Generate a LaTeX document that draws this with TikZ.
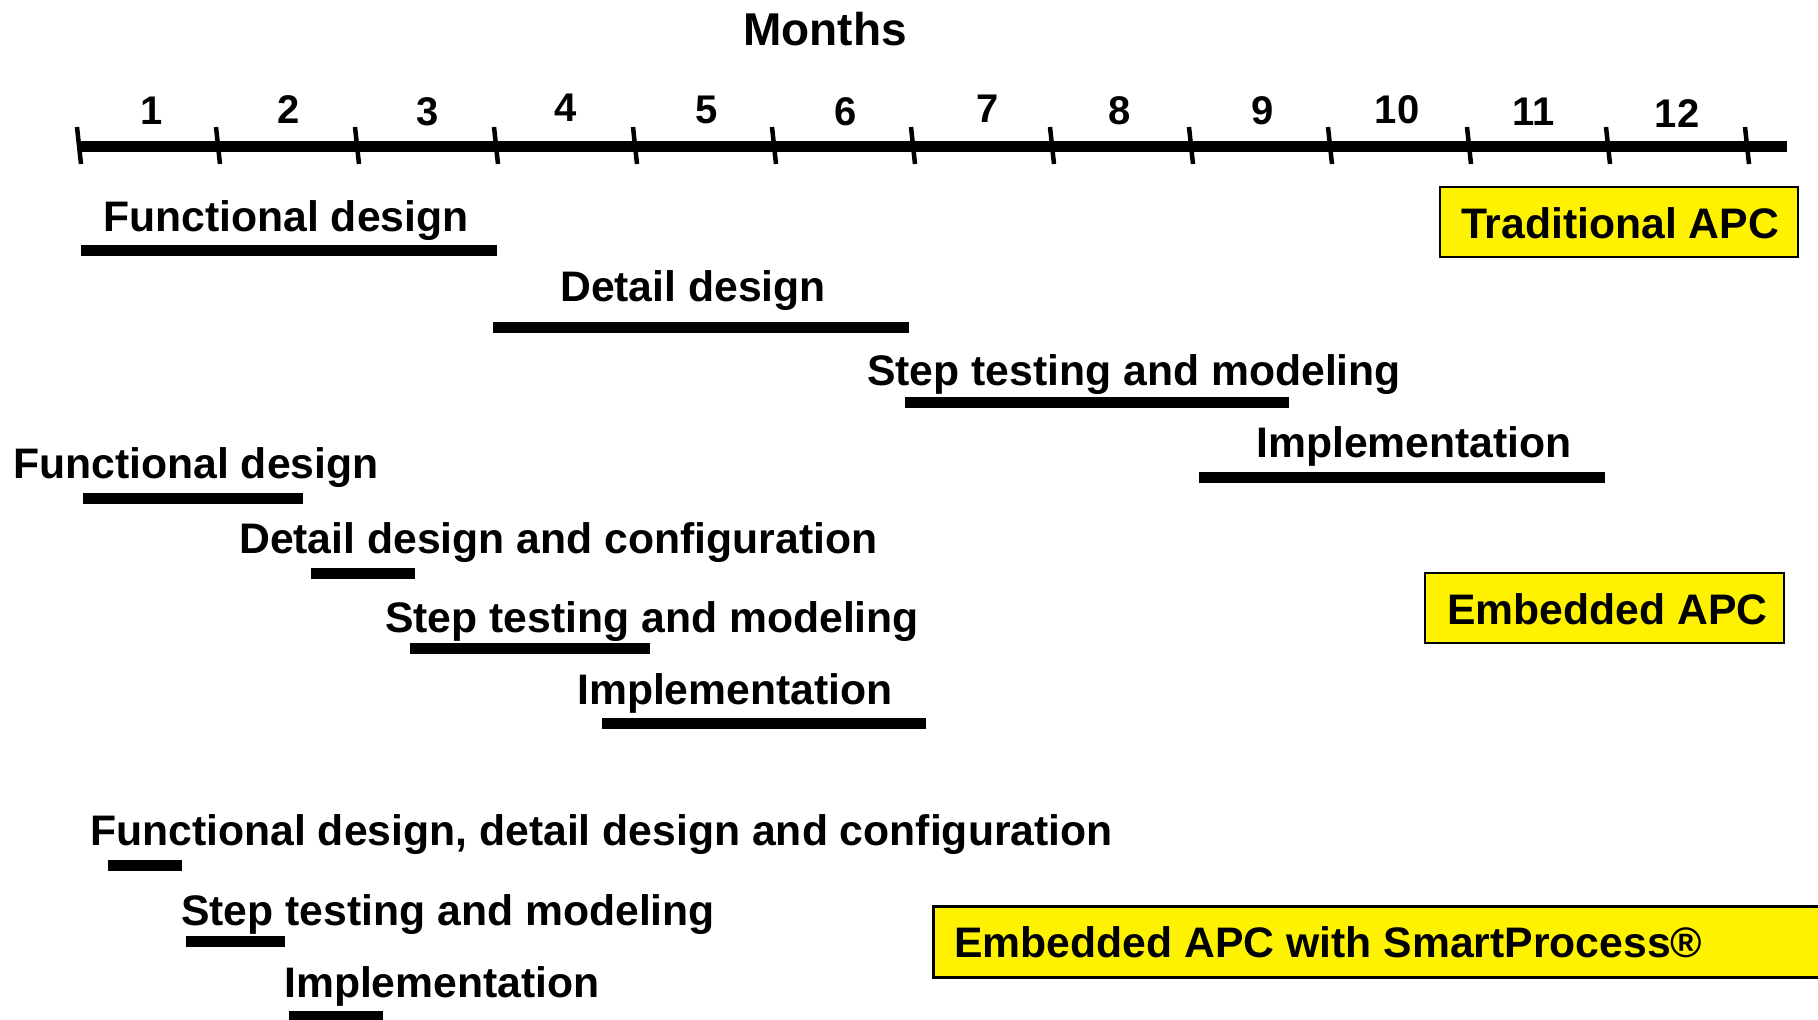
\documentclass[tikz,border=0pt]{standalone}
\usepackage{fontspec}
\setmainfont{Liberation Sans}
\begin{document}
\begin{tikzpicture}[x=1pt,y=-1pt,
  lbl/.style={anchor=base west, inner sep=0pt, font=\fontsize{42.7}{50}\selectfont\bfseries},
  num/.style={anchor=base, inner sep=0pt, font=\fontsize{40}{48}\selectfont\bfseries},
  ttl/.style={anchor=base, inner sep=0pt, font=\fontsize{46}{54}\selectfont\bfseries},
  bar/.style={line width=11pt},
  axisline/.style={line width=11pt},
  tickmark/.style={line width=4.5pt},
  tagbox/.style={draw=black, line width=2.5pt, fill=yellow}]

\useasboundingbox (0,0) rectangle (1818,1020);

% month axis
\node[ttl] (months) at (825,45) {Months};
\coordinate (axL) at (79,146);
\coordinate (axR) at (1787,146);
\draw[axisline] (axL) -- (axR);
\foreach \k in {0,...,12}{
  \draw[tickmark] ({79+139*\k-2},127) -- ({79+139*\k+2},164);
}
\foreach \m/\xx/\yy in {1/152/124.6, 2/289/123.5, 3/428/125.8, 4/566/121,
                        5/707/123.5, 6/846/125.8, 7/988/122.3, 8/1120/124.6,
                        9/1263/124.6, 10/1397/123.5, 11/1534/125.8, 12/1677/127}{
  \node[num] (m\m) at (\xx,\yy) {\m};
}

% traditional APC schedule
\node[lbl] (t1) at (103,231) {Functional design};
\draw[bar] (81,250) -- (497,250);
\node[lbl] (t2) at (560,301.5) {Detail design};
\draw[bar] (493,327) -- (909,327);
\node[lbl] (t3) at (867,385) {Step testing and modeling};
\draw[bar] (905,402) -- (1289,402);
\node[lbl] (t4) at (1256,457) {Implementation};
\draw[bar] (1199,477) -- (1605,477);

\filldraw[tagbox] (1440,187) rectangle (1798,257);
\node[lbl] (trad) at (1461,238) {Traditional APC};

% embedded APC schedule
\node[lbl] (e1) at (13,478) {Functional design};
\draw[bar] (83,498.5) -- (303,498.5);
\node[lbl] (e2) at (239,553) {Detail design and configuration};
\draw[bar] (311,573) -- (415,573);
\node[lbl] (e3) at (385,632) {Step testing and modeling};
\draw[bar] (410,648) -- (650,648);
\node[lbl] (e4) at (577,704) {Implementation};
\draw[bar] (602,723) -- (926,723);

\filldraw[tagbox] (1425,573) rectangle (1784,643);
\node[lbl] (emb) at (1447,624) {Embedded APC};

% embedded APC with SmartProcess schedule
\node[lbl] (s1) at (90,845) {Functional design, detail design and configuration};
\draw[bar] (108,865) -- (182,865);
\node[lbl] (s2) at (181,925) {Step testing and modeling};
\draw[bar] (186,941) -- (285,941);
\node[lbl] (s3) at (284,997) {Implementation};
\draw[bar] (289,1016.5) -- (383,1016.5);

\filldraw[tagbox, line width=3pt] (933,906) rectangle (1840,977);
\node[lbl] (smart) at (954,957) {Embedded APC with SmartProcess®};
\end{tikzpicture}
\end{document}
